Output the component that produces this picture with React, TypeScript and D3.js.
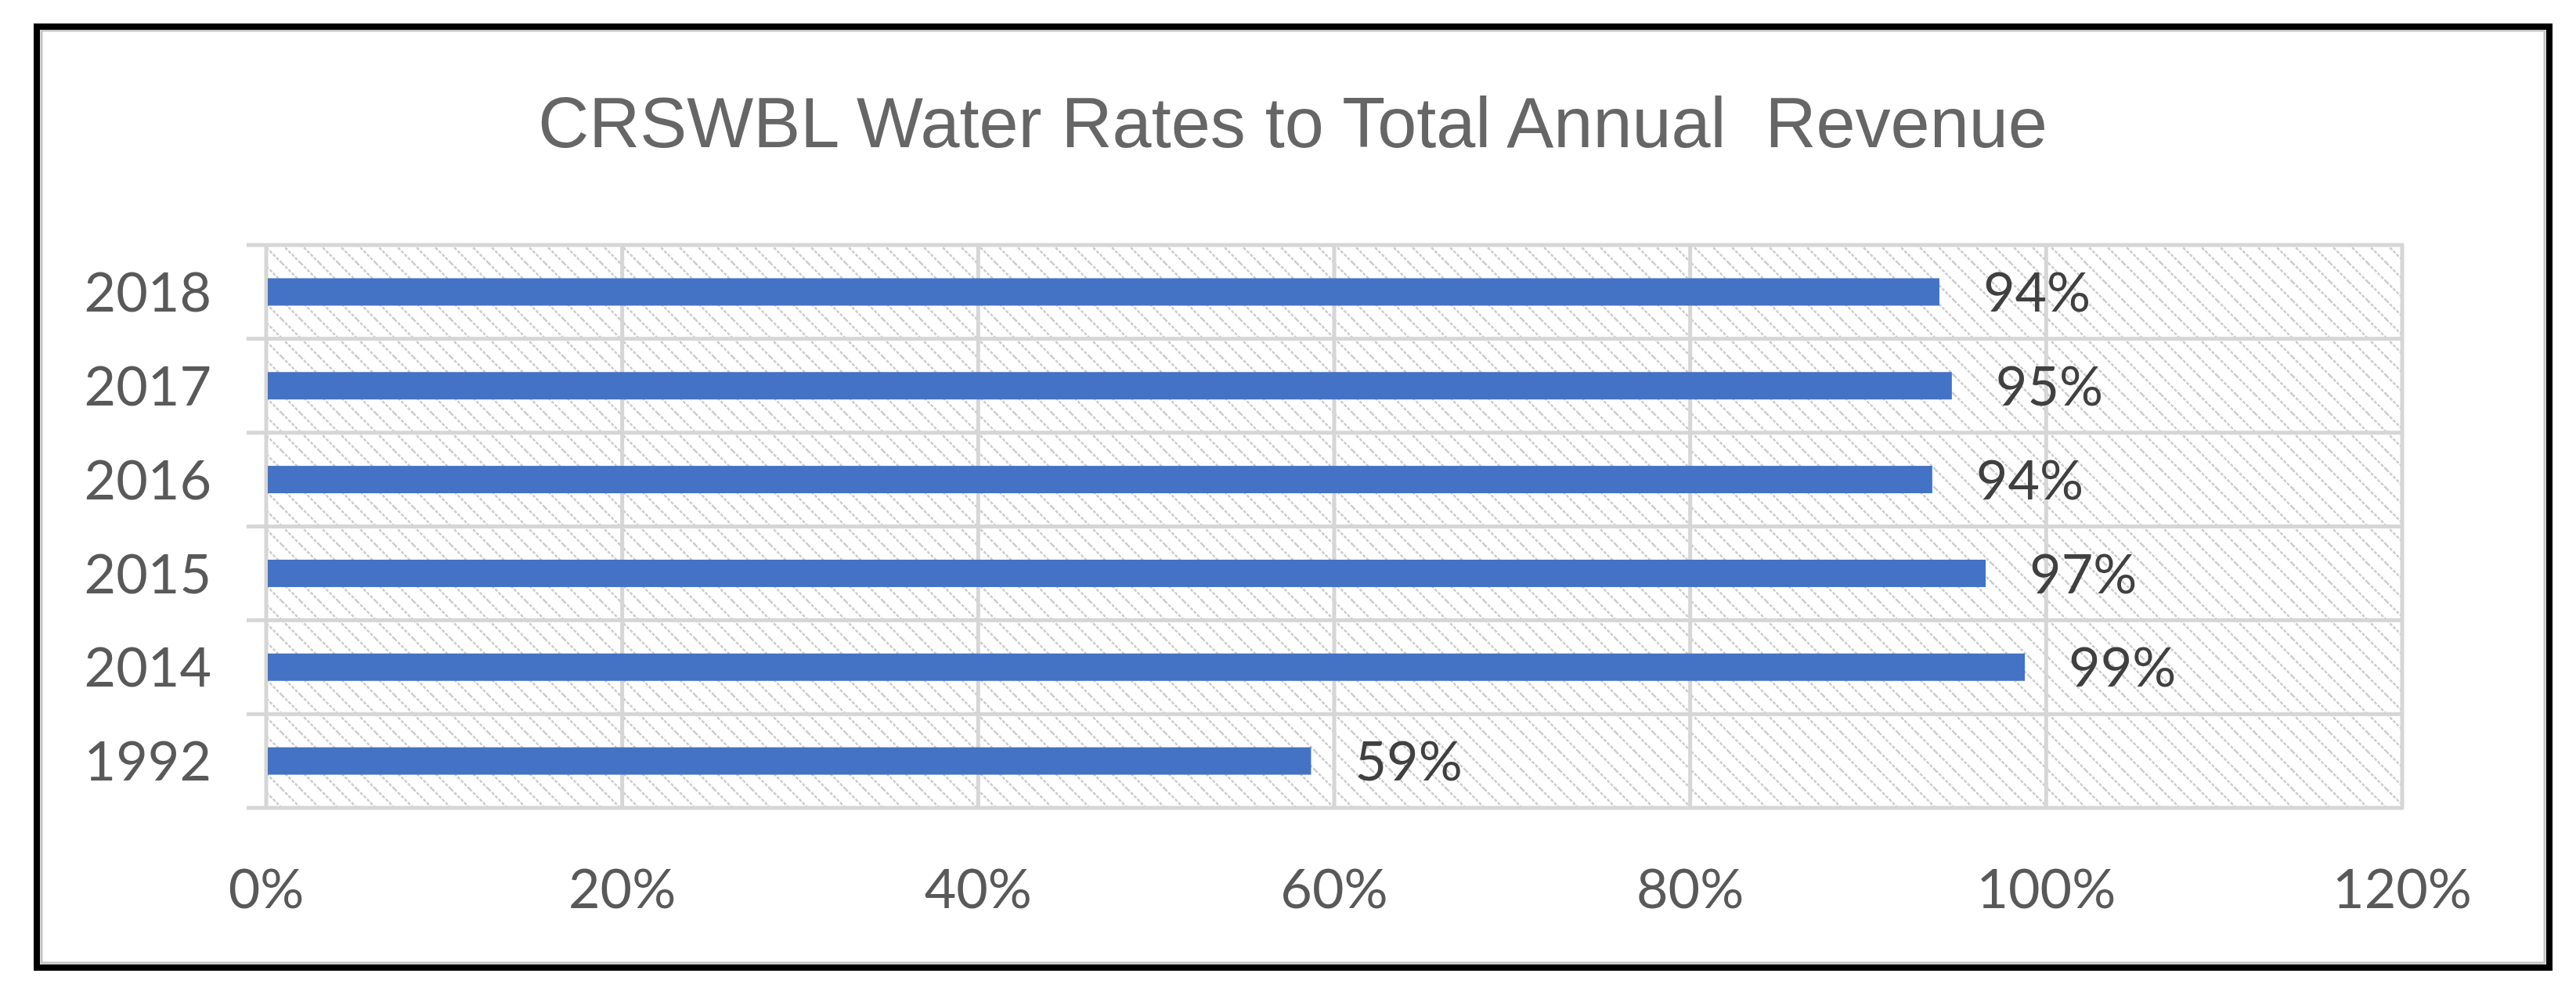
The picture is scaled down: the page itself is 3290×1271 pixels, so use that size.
import React, { useEffect, useRef } from "react";
import * as d3 from "d3";

const years = ["2018", "2017", "2016", "2015", "2014", "1992"];
const shares = [0.94, 0.947, 0.936, 0.966, 0.988, 0.587];
const xTicks = [0, 0.2, 0.4, 0.6, 0.8, 1.0, 1.2];
const title = "CRSWBL Water Rates to Total Annual\u00A0 Revenue";

const App: React.FC = () => {
  const svgRef = useRef<SVGSVGElement | null>(null);

  useEffect(() => {
    document.body.style.margin = "0";
    const width = 3290, height = 1271;
    const svg = d3.select(svgRef.current).attr("width", width).attr("height", height);
    svg.selectAll("*").remove();

    const left = 340, right = 3068, top = 313, bottom = 1032;
    const pct = d3.format(".0%");

    const x = d3.scaleLinear().domain([0, 1.2]).range([left, right]);
    const y = d3.scaleBand<string>()
      .domain(years)
      .range([top, bottom])
      .paddingInner(0.708)
      .paddingOuter(0.354);

    svg.append("rect").attr("width", width).attr("height", height).attr("fill", "#fff");

    // hatch fill for the plot area
    const defs = svg.append("defs");
    const pat = defs.append("pattern")
      .attr("id", "hatch")
      .attr("patternUnits", "userSpaceOnUse")
      .attr("width", 24)
      .attr("height", 24);
    pat.append("rect").attr("width", 24).attr("height", 24).attr("fill", "#fff");
    pat.append("path")
      .attr("d", "M0,0L24,24M-6,18L6,30M18,-6L30,6")
      .attr("stroke", "#cdcdcd")
      .attr("stroke-width", 2.5)
      .attr("stroke-dasharray", "4 2");

    svg.append("rect")
      .attr("x", left).attr("y", top)
      .attr("width", right - left).attr("height", bottom - top)
      .attr("fill", "url(#hatch)");

    // vertical gridlines
    svg.append("g")
      .selectAll("line")
      .data(xTicks)
      .join("line")
      .attr("x1", d => x(d)).attr("x2", d => x(d))
      .attr("y1", top).attr("y2", bottom)
      .attr("stroke", "#d6d6d6")
      .attr("stroke-width", 5);

    // row separators, extended left as tick marks
    const step = y.step();
    svg.append("g")
      .selectAll("line")
      .data(d3.range(years.length + 1))
      .join("line")
      .attr("x1", left - 25).attr("x2", right + 2)
      .attr("y1", i => top + i * step).attr("y2", i => top + i * step)
      .attr("stroke", "#d6d6d6")
      .attr("stroke-width", 5);

    // bars
    svg.append("g")
      .selectAll("rect")
      .data(years)
      .join("rect")
      .attr("x", x(0) + 2)
      .attr("y", d => y(d)!)
      .attr("width", (d, i) => x(shares[i]) - x(0) - 2)
      .attr("height", y.bandwidth())
      .attr("fill", "#4472C4");

    // data labels
    svg.append("g")
      .selectAll("text")
      .data(years)
      .join("text")
      .attr("x", (d, i) => x(shares[i]) + 56)
      .attr("y", d => y(d)! + y.bandwidth() / 2)
      .attr("dy", "0.36em")
      .attr("font-family", "Lato, 'Open Sans', sans-serif")
      .attr("font-size", 70)
      .attr("fill", "#404040")
      .text((d, i) => pct(shares[i]));

    // category labels
    svg.append("g")
      .selectAll("text")
      .data(years)
      .join("text")
      .attr("x", 270)
      .attr("y", d => y(d)! + y.bandwidth() / 2)
      .attr("dy", "0.36em")
      .attr("text-anchor", "end")
      .attr("font-family", "Lato, 'Open Sans', sans-serif")
      .attr("font-size", 70)
      .attr("fill", "#595959")
      .text(d => d);

    // value axis labels
    svg.append("g")
      .selectAll("text")
      .data(xTicks)
      .join("text")
      .attr("x", d => x(d))
      .attr("y", 1160)
      .attr("text-anchor", "middle")
      .attr("font-family", "Lato, 'Open Sans', sans-serif")
      .attr("font-size", 70)
      .attr("fill", "#595959")
      .text(d => pct(d));

    // title
    svg.append("text")
      .attr("x", 1651)
      .attr("y", 188)
      .attr("text-anchor", "middle")
      .attr("font-family", "'Liberation Sans', Arial, sans-serif")
      .attr("font-size", 90)
      .attr("fill", "#666666")
      .text(title);

    // chart frame
    svg.append("rect")
      .attr("x", 53).attr("y", 39)
      .attr("width", 3197).attr("height", 1191)
      .attr("fill", "none")
      .attr("stroke", "#c4c4c4")
      .attr("stroke-width", 3);
    svg.append("rect")
      .attr("x", 47).attr("y", 34)
      .attr("width", 3209).attr("height", 1202)
      .attr("fill", "none")
      .attr("stroke", "#000")
      .attr("stroke-width", 8);
  }, []);

  return <svg ref={svgRef}></svg>;
};

export default App;
